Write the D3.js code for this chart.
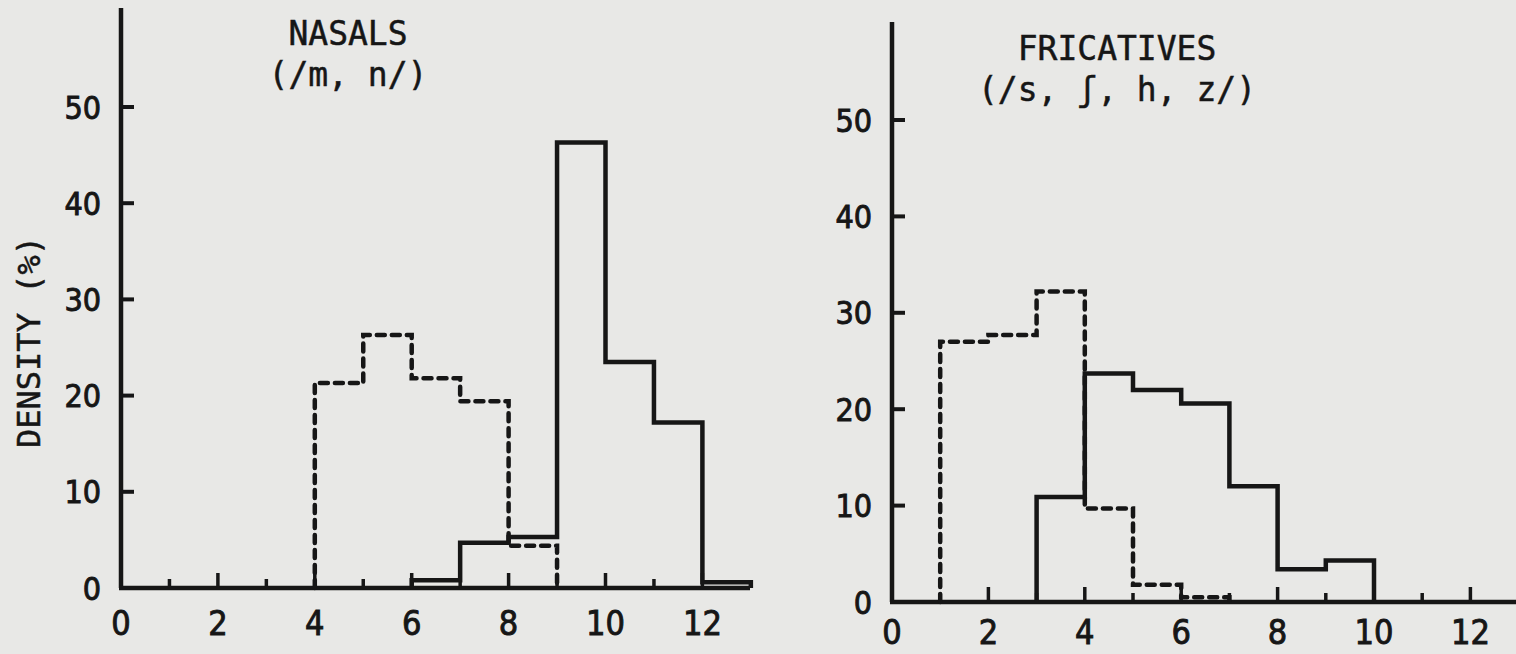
<!DOCTYPE html>
<html>
<head>
<meta charset="utf-8">
<script src="https://cdn.jsdelivr.net/npm/d3@7"></script>
<style>
  body { margin: 0; background: #e8e8e6; }
  svg { display: block; }
  .tick-label { font-family: "DejaVu Sans Condensed", "Liberation Sans Narrow", "DejaVu Sans", sans-serif; font-stretch: condensed; fill: #161616; stroke: #161616; stroke-width: 0.9; }
  .title { font-family: "DejaVu Sans Mono", monospace; fill: #161616; stroke: #161616; stroke-width: 0.5; }
</style>
</head>
<body>
<div id="chart"></div>
<script>
// ---- data (density %, one value per unit bin starting at binStart) ----
const xTicks = [0, 2, 4, 6, 8, 10, 12];
const yTicks = [0, 10, 20, 30, 40, 50];

const nasalTitle = ["NASALS", "(/m, n/)"];
const nasalSolidStart = 6;
const nasalSolid = [0.8, 4.7, 5.3, 46.3, 23.5, 17.2, 0.6];
const nasalDashedStart = 4;
const nasalDashed = [21.3, 26.3, 21.8, 19.4, 4.4];

const fricTitle = ["FRICATIVES", "(/s, \u0283, h, z/)"];
const fricSolidStart = 3;
const fricSolid = [10.9, 23.7, 22.0, 20.6, 12.0, 3.4, 4.3];
const fricDashedStart = 1;
const fricDashed = [27.0, 27.7, 32.2, 9.7, 1.8, 0.5];

const ink = "#161616";

let svg = d3.select("#chart").append("svg")
    .attr("width", 1516)
    .attr("height", 654);

// turn a list of bin values into step outline points
function stepPoints(start, vals) {
    let pts = [[start, 0]];
    vals.forEach((v, i) => {
        pts.push([start + i, v]);
        pts.push([start + i + 1, v]);
    });
    pts.push([start + vals.length, 0]);
    return pts;
}

function drawPanel(cfg) {
    let g = svg.append("g");
    let x = d3.scaleLinear().domain([0, 13]).range([cfg.x0, cfg.x0 + 13 * cfg.unit]);
    let y = d3.scaleLinear().domain([0, 50]).range([cfg.y0, cfg.y50]);

    // y axis line
    g.append("line")
        .attr("x1", x(0)).attr("x2", x(0))
        .attr("y1", y(0)).attr("y2", cfg.yTop)
        .attr("stroke", ink).attr("stroke-width", 4.5);
    // x axis line
    g.append("line")
        .attr("x1", x(0) - 2).attr("x2", cfg.xEnd)
        .attr("y1", y(0)).attr("y2", y(0))
        .attr("stroke", ink).attr("stroke-width", 4.5);

    // y ticks
    g.selectAll(".yt").data(yTicks.filter(d => d > 0)).join("line")
        .attr("x1", x(0)).attr("x2", x(0) + 13)
        .attr("y1", d => y(d)).attr("y2", d => y(d))
        .attr("stroke", ink).attr("stroke-width", 4);
    g.selectAll(".yl").data(yTicks).join("text")
        .attr("class", "tick-label")
        .attr("x", x(0) - 20)
        .attr("y", d => y(d))
        .attr("dy", "0.36em")
        .attr("text-anchor", "end")
        .attr("font-size", 32)
        .text(d => d);

    // x ticks, even ones taller
    g.selectAll(".xt").data(d3.range(1, 13)).join("line")
        .attr("x1", d => x(d)).attr("x2", d => x(d))
        .attr("y1", y(0)).attr("y2", d => y(0) - (d % 2 === 0 ? 15 : 9))
        .attr("stroke", ink).attr("stroke-width", 3.5);
    g.selectAll(".xl").data(xTicks).join("text")
        .attr("class", "tick-label")
        .attr("x", d => x(d))
        .attr("y", cfg.labelY)
        .attr("text-anchor", "middle")
        .attr("font-size", 34)
        .text(d => d);

    // histograms
    let line = d3.line().x(d => x(d[0])).y(d => y(d[1]));
    g.append("path")
        .attr("d", line(stepPoints(cfg.dashedStart, cfg.dashed)))
        .attr("fill", "none").attr("stroke", ink)
        .attr("stroke-width", 4.5)
        .attr("stroke-dasharray", "8,7")
        .attr("stroke-linecap", "round");
    g.append("path")
        .attr("d", line(stepPoints(cfg.solidStart, cfg.solid)))
        .attr("fill", "none").attr("stroke", ink)
        .attr("stroke-width", 4.5)
        .attr("stroke-linejoin", "miter");

    // title
    g.selectAll(".tt").data(cfg.title).join("text")
        .attr("class", "title")
        .attr("x", cfg.titleX)
        .attr("y", (d, i) => cfg.titleY + i * 41)
        .attr("text-anchor", "middle")
        .attr("font-size", 33)
        .text(d => d);
}

drawPanel({
    x0: 121, unit: 48.45, y0: 588, y50: 107, yTop: 8, xEnd: 750, labelY: 635,
    solidStart: nasalSolidStart, solid: nasalSolid,
    dashedStart: nasalDashedStart, dashed: nasalDashed,
    title: nasalTitle, titleX: 348, titleY: 45
});

drawPanel({
    x0: 892, unit: 48.2, y0: 602, y50: 120, yTop: 22, xEnd: 1516, labelY: 644,
    solidStart: fricSolidStart, solid: fricSolid,
    dashedStart: fricDashedStart, dashed: fricDashed,
    title: fricTitle, titleX: 1117, titleY: 60
});

// y axis label
svg.append("text")
    .attr("class", "title")
    .attr("transform", "translate(40,342) rotate(-90)")
    .attr("text-anchor", "middle")
    .attr("font-size", 32)
    .text("DENSITY (%)");
</script>
</body>
</html>
